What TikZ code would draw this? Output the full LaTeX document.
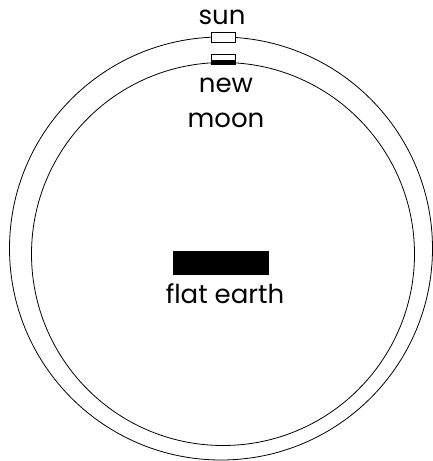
\documentclass[tikz,border=0pt]{standalone}
\usepackage{fontspec}
\setmainfont{Poppins}
\usetikzlibrary{positioning}

\tikzset{
    body/.style={draw, line width=0.8pt, inner sep=0pt, minimum width=24pt, minimum height=10pt},
    lbl/.style={font=\fontsize{26}{35}\selectfont, inner sep=0pt, align=center}
}

\begin{document}
\begin{tikzpicture}[x=1pt, y=-1pt]
    \useasboundingbox (0,0) rectangle (432,461);
    % the two spheres
    \draw[line width=0.8pt] (221,248.5) circle (211.5);
    \draw[line width=0.8pt] (223,254) circle (191.5);
    % sun on the outer sphere
    \node[body, fill=white] (sun) at (223,37) {};
    \node[lbl, anchor=base] (sunlabel) at (222,24) {sun};
    % moon on the inner sphere
    \node[body, fill=white] (moon) at (223,59.5) {};
    \fill (moon.west) rectangle (moon.south east);
    \node[lbl, anchor=base] (moonlabel) at (226,127) {new\\moon};
    % earth in the middle
    \node[fill, inner sep=0pt, minimum width=96pt, minimum height=24pt] (earth) at (221,263) {};
    \node[lbl, anchor=base] (earthlabel) at (225,303) {flat earth};
\end{tikzpicture}
\end{document}
